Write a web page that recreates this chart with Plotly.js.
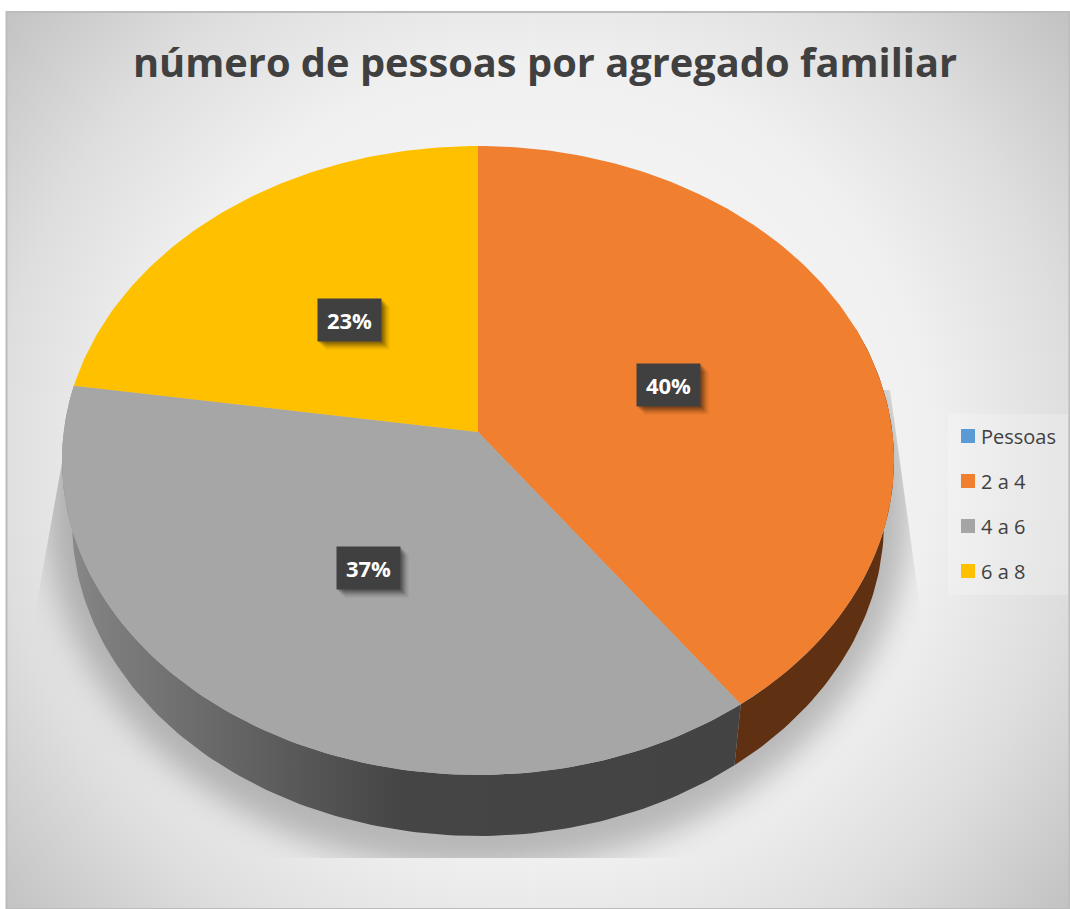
<!DOCTYPE html>
<html>
<head>
<meta charset="utf-8">
<script src="https://cdn.plot.ly/plotly-3.0.1.min.js"></script>
<style>html,body{margin:0;padding:0;background:#fff}#chart{width:1070px;height:909px}</style>
</head>
<body>
<div id="chart"></div>
<script>
// ---- data ----
const titleText = "número de pessoas por agregado familiar";
const legendNames = ["Pessoas", "2 a 4", "4 a 6", "6 a 8"];
const legendColors = ["#5b9bd5", "#f07f2f", "#a5a5a5", "#ffc000"];
const sliceNames = ["2 a 4", "4 a 6", "6 a 8"];
const sliceValues = [40, 37.4, 22.6];
const sliceLabels = ["40%", "37%", "23%"];
const sliceColors = ["#f07f30", "#a6a6a6", "#ffc000"];

// ---- tilted-disc projection ----
const W = 1070, H = 909;
const cx = 478, cy = 432, A = 414.3, B = 311.9, k = 0.0906;
const depth = 61, bottomScale = 0.976;
function topRim(aDeg, r) {
  r = r === undefined ? 1 : r;
  const a = aDeg * Math.PI / 180, u = r * Math.sin(a), v = r * Math.cos(a), w = 1 + k * v;
  return [cx + A * u / w, cy - B * v / w];
}
function bottomRim(aDeg) {
  const p = topRim(aDeg);
  return [cx + (p[0] - cx) * bottomScale, p[1] + depth];
}
function arc(fn, a0, a1) {
  const pts = [], n = Math.max(2, Math.ceil(Math.abs(a1 - a0)));
  for (let i = 0; i <= n; i++) pts.push(fn(a0 + (a1 - a0) * i / n));
  return pts;
}
function polyTrace(pts, extra) {
  return Object.assign({
    type: "scatter", mode: "lines", x: pts.map(p => p[0]), y: pts.map(p => p[1]),
    fill: "toself", line: {width: 0}, hoverinfo: "skip", showlegend: false
  }, extra);
}

const total = sliceValues.reduce((s, v) => s + v, 0);
const bounds = [0];
sliceValues.forEach(v => bounds.push(bounds[bounds.length - 1] + v / total * 360));

const traces = [];
// side walls
const orangeSide = arc(topRim, 70, bounds[1]).concat(arc(bottomRim, bounds[1], 70));
traces.push(polyTrace(orangeSide, {fillcolor: "#5f3112"}));
const graySide = arc(topRim, bounds[1], 279).concat(arc(bottomRim, 279, bounds[1]));
traces.push(polyTrace(graySide, {
  fillcolor: "#555",
  fillgradient: {type: "horizontal",
    colorscale: [[0, "#8c8c8c"], [0.05, "#808080"], [0.35, "#585858"], [0.5, "#454545"], [1, "#434343"]]}
}));
// top faces
sliceValues.forEach((v, i) => {
  const pts = [[cx, cy]].concat(arc(topRim, bounds[i], bounds[i + 1]));
  pts.push([cx, cy]);
  traces.push(polyTrace(pts, {fillcolor: sliceColors[i], name: sliceNames[i]}));
});
// legend entries
legendNames.forEach((n, i) => {
  traces.push({
    type: "scatter", mode: "markers", x: [-100], y: [-100], name: n, legendgroup: n,
    marker: {symbol: "square", size: 14, color: legendColors[i]}, hoverinfo: "skip", showlegend: true
  });
});

// value labels (soft drop shadow, then box)
const annotations = [];
const shadowLayers = [[8, 0.07], [6, 0.11], [4, 0.17], [2, 0.2]];
sliceValues.forEach((v, i) => {
  const mid = (bounds[i] + bounds[i + 1]) / 2;
  const p = topRim(mid, 0.49);
  const base = {xref: "x", yref: "y", x: p[0], y: p[1], showarrow: false, width: 61, height: 40, xanchor: "center", yanchor: "middle"};
  shadowLayers.forEach(s => {
    annotations.push(Object.assign({}, base, {text: " ", xshift: s[0], yshift: -s[0], bgcolor: "rgba(0,0,0," + s[1] + ")"}));
  });
  annotations.push(Object.assign({}, base, {text: "<b>" + sliceLabels[i] + "</b>", bgcolor: "#404040",
    font: {family: "Open Sans, sans-serif", size: 22, color: "#ffffff"}}));
});

// backdrop: panel gradient, the disc's clipped soft shadow, legend panel
const backdrop = `<svg xmlns="http://www.w3.org/2000/svg" width="${W}" height="${H}" viewBox="0 0 ${W} ${H}">
<defs>
<radialGradient id="g" gradientUnits="userSpaceOnUse" cx="535" cy="460" r="720">
<stop offset="0" stop-color="#fbfbfb"/><stop offset="0.55" stop-color="#f0f0f0"/>
<stop offset="0.75" stop-color="#dedede"/><stop offset="1" stop-color="#bebebe"/></radialGradient>
<filter id="b" x="-20%" y="-20%" width="140%" height="140%"><feGaussianBlur stdDeviation="16"/></filter>
<clipPath id="c"><polygon points="76,385 890,390 920,607 920,858 36,858 36,607"/></clipPath>
</defs>
<rect x="0" y="0" width="${W}" height="${H}" fill="#ffffff"/>
<rect x="6.5" y="12" width="1063" height="897" fill="url(#g)" stroke="#bcbcbc" stroke-width="2"/>
<g clip-path="url(#c)"><ellipse cx="478" cy="505" rx="432" ry="365" fill="#000" fill-opacity="0.24" filter="url(#b)"/></g>
<rect x="948" y="414" width="120" height="181" fill="#ffffff" fill-opacity="0.22"/>
</svg>`;

const layout = {
  width: W, height: H,
  margin: {l: 0, r: 0, t: 0, b: 0, pad: 0},
  paper_bgcolor: "rgba(0,0,0,0)", plot_bgcolor: "rgba(0,0,0,0)",
  title: {text: "<b>" + titleText + "</b>", x: 545 / W, xanchor: "center", y: 1 - 63 / H, yanchor: "middle",
    font: {family: "Open Sans, sans-serif", size: 39.8, color: "#404040"}},
  xaxis: {range: [0, W], visible: false, fixedrange: true},
  yaxis: {range: [H, 0], visible: false, fixedrange: true},
  showlegend: true,
  legend: {x: 948 / W, xanchor: "left", y: 1 - 416.5 / H, yanchor: "top", bgcolor: "rgba(255,255,255,0)",
    font: {family: "Open Sans, sans-serif", size: 20, color: "#404040"},
    tracegroupgap: 16, itemclick: false, itemdoubleclick: false, traceorder: "grouped"},
  annotations: annotations,
  images: [{source: "data:image/svg+xml;charset=utf-8," + encodeURIComponent(backdrop),
    xref: "paper", yref: "paper", x: 0, y: 1, sizex: 1, sizey: 1, xanchor: "left", yanchor: "top",
    sizing: "stretch", layer: "below"}],
  hovermode: false
};
Plotly.newPlot("chart", traces, layout, {displayModeBar: false}).then(gd => {
  // legend label sits closer to its swatch in the reference
  gd.querySelectorAll(".legendtext").forEach(t => {
    t.setAttribute("x", parseFloat(t.getAttribute("x")) - 7);
  });
});
</script>
</body>
</html>
